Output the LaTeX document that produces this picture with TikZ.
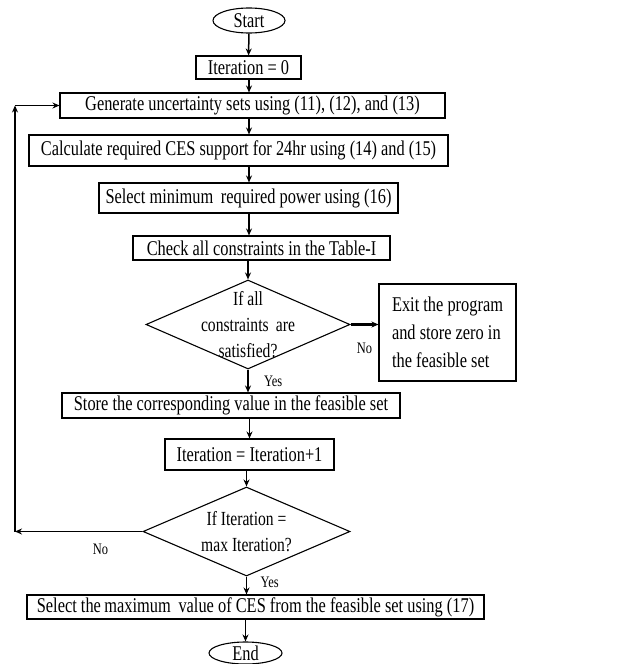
\documentclass[tikz,border=0pt]{standalone}
\usepackage{fontspec}
\setmainfont{Liberation Serif}[FakeStretch=0.78]
\usetikzlibrary{shapes.geometric,arrows.meta}

\begin{document}
\begin{tikzpicture}[x=1pt,y=-1pt,>={Stealth[length=7pt,width=6pt]},line width=1.5pt,
  box/.style={draw,rectangle,line width=1.1pt,inner sep=0pt,font=\fontsize{21}{27}\selectfont},
  term/.style={draw,ellipse,line width=1.1pt,inner sep=0pt,font=\fontsize{21}{27}\selectfont},
  decision/.style={draw,diamond,line width=1.1pt,inner sep=0pt},
  dtext/.style={align=center,font=\fontsize{20}{26}\selectfont},
  small label/.style={font=\fontsize{16}{18}\selectfont}]
                \useasboundingbox (0,0) rectangle (643,664);

                \node[term] (start) at (249,20.5) [minimum width=72pt,minimum height=25pt] {Start};
                \node[box] (iter0) at (248.5,67.5) [minimum width=105pt,minimum height=23pt] {Iteration = 0};
                \node[box] (gen) at (252.5,105.5) [minimum width=385pt,minimum height=25pt] {Generate uncertainty sets using (11), (12), and (13)};
                \node[box] (calc) at (238.5,150.5) [minimum width=419pt,minimum height=31pt] {Calculate required CES support for 24hr using (14) and (15)};
                \node[box] (select) at (248.5,198) [minimum width=299pt,minimum height=30pt] {Select minimum\ \,required power using (16)};
                \node[box] (check) at (261.5,248) [minimum width=257pt,minimum height=24pt] {Check all constraints in the Table-I};
                \node[decision, label={[dtext]center:If all\\constraints\ \,are\\satisfied?}] (dec1) at (248,324.5) [minimum width=204pt,minimum height=89pt] {};
                \node[box, align=left, font=\fontsize{21}{28}\selectfont] (exit) at (447.5,332.5) [minimum width=137pt,minimum height=97pt] {Exit the program\\and store zero in\\the feasible set};
                \node[box] (store) at (231,405.5) [minimum width=338pt,minimum height=25pt] {Store the corresponding value in the feasible set};
                \node[box] (incr) at (249.5,454.5) [minimum width=169pt,minimum height=31pt] {Iteration = Iteration+1};
                \node[decision, label={[dtext]center:If Iteration =\\max Iteration?}] (dec2) at (246.5,531.5) [minimum width=207pt,minimum height=89pt] {};
                \node[box] (final) at (255.5,607) [minimum width=457pt,minimum height=24pt] {Select the\,maximum\ \,value of CES from the feasible set using (17)};
                \node[term] (stop) at (245.5,653) [minimum width=73pt,minimum height=22pt] {End};

                \coordinate (loopbot) at (15,531.5);
                \coordinate (looptop) at (15,105.5);

                \path[->,every node/.style={small label}]
                    (start) edge (iter0)
                    (iter0.south -| start) edge (gen.north -| start)
                    (gen.south -| start) edge (calc.north -| start)
                    (calc.south -| start) edge (select.north -| start)
                    (select.south -| start) edge (check.north -| start)
                    (check.south -| dec1) edge (dec1.north)
                    (dec1.south) edge node[right,xshift=12pt] {Yes} (store.north -| dec1)
                    (store.south -| incr) edge (incr.north)
                    (incr.south -| dec2) edge (dec2.north)
                    (dec2.south) edge node[right,xshift=10pt,yshift=3pt] {Yes} (final.north -| dec2)
                    (final.south -| stop) edge (stop.north)
                    (dec2.west) edge node[pos=0.33,below,yshift=-8pt] {No} (loopbot)
                    (loopbot) edge (looptop)
                    (looptop) edge (gen.west)
                    ;
                \draw[->,line width=3pt]
                (dec1.east) -- node[small label,below,yshift=-14pt] {No} (exit.west |- dec1)
                ;
            \end{tikzpicture}
\end{document}
